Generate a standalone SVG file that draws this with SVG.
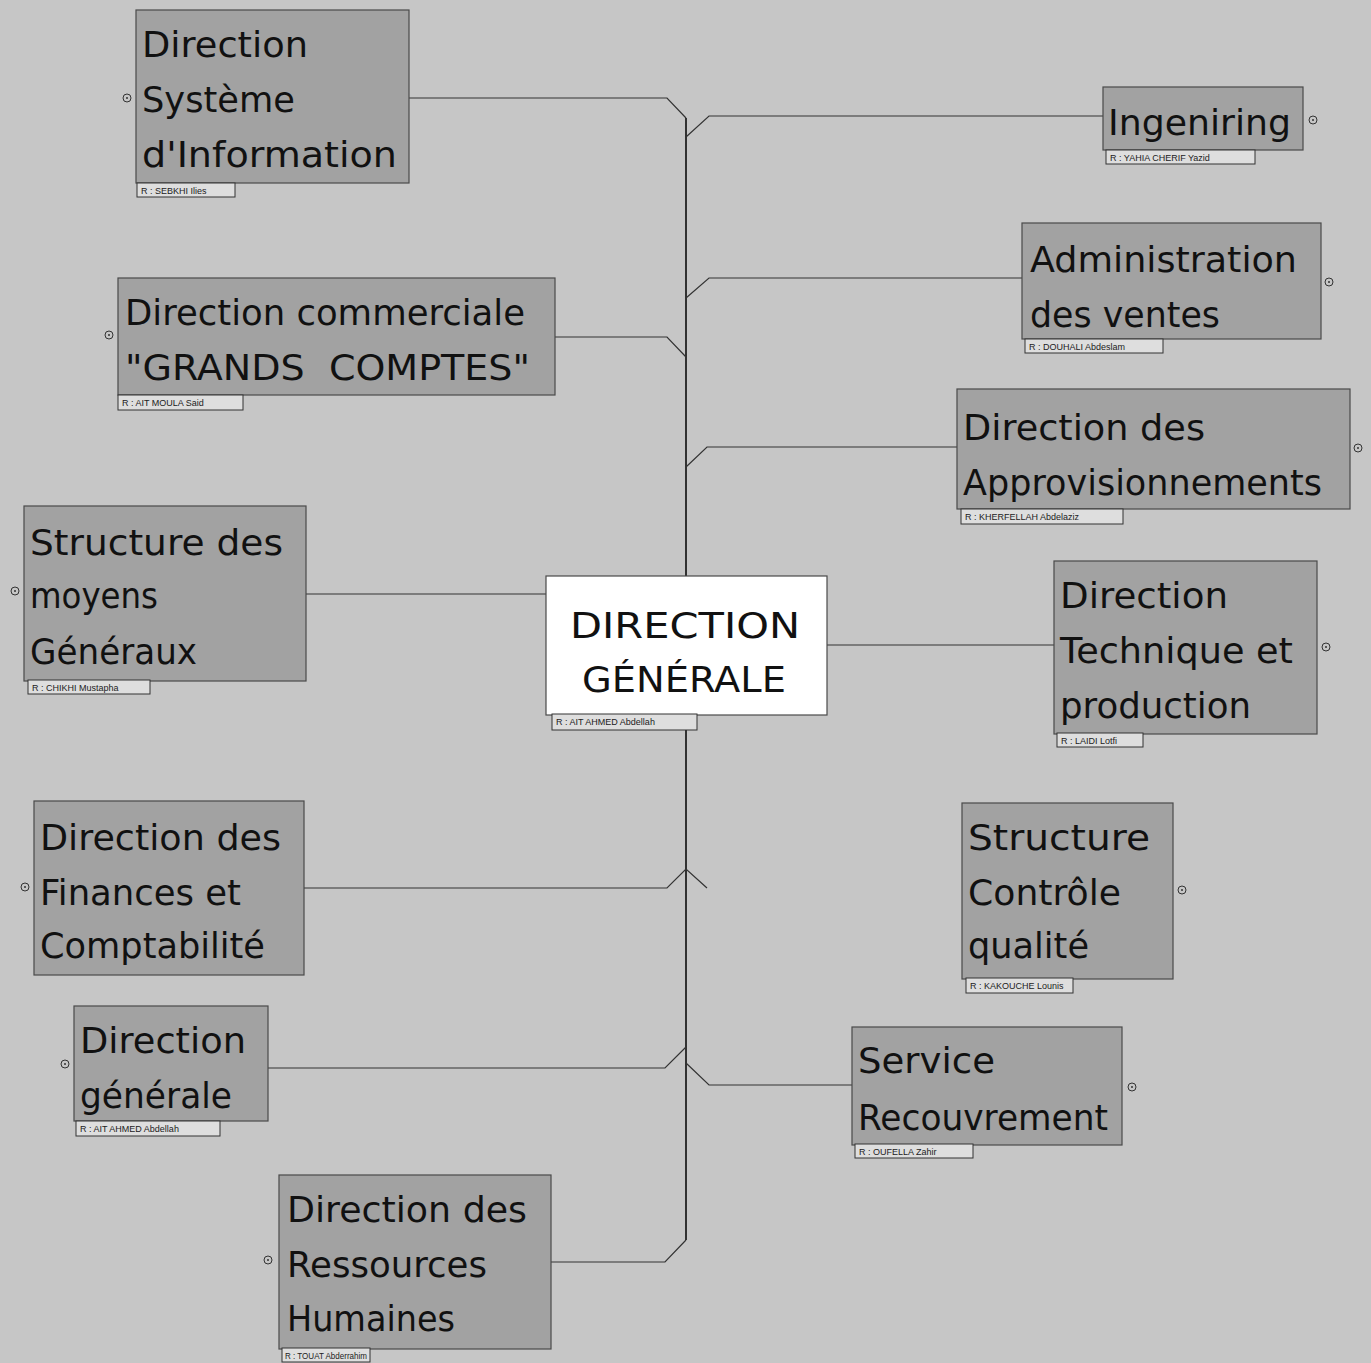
<svg xmlns="http://www.w3.org/2000/svg" width="1371" height="1363" viewBox="0 0 1371 1363">
<style>
.bg{fill:#c6c6c6}
.box{fill:#a2a2a2;stroke:#4a4a4a;stroke-width:1.2}
.main{fill:#ffffff;stroke:#4a4a4a;stroke-width:1.2}
.t{font-family:"DejaVu Sans","Liberation Sans",sans-serif;font-size:35px;fill:#111}
.lab{fill:#dedede;stroke:#333;stroke-width:1}
.lt{font-family:"Liberation Sans",Arial,sans-serif;font-size:9px;fill:#222}
.conn{stroke:#333;fill:none;stroke-width:1.2}
.trunk{stroke:#222;fill:none;stroke-width:1.8}
.mk{fill:none;stroke:#333;stroke-width:1}
.dot{fill:#333}
</style>
<rect class="bg" x="0" y="0" width="1371" height="1363"/>

<g id="connectors">
  <path class="trunk" d="M686,118 V1240"/>
  <path class="conn" d="M409,98 H667 L686,118"/>
  <path class="conn" d="M1103,116 H709 L686,137"/>
  <path class="conn" d="M1022,278 H709 L686,298"/>
  <path class="conn" d="M555,337 H667 L686,357"/>
  <path class="conn" d="M957,447 H707 L686,467"/>
  <path class="conn" d="M306,594 H546"/>
  <path class="conn" d="M827,645 H1054"/>
  <path class="conn" d="M304,888 H667 L686,869 L707,888"/>
  <path class="conn" d="M268,1068 H665 L686,1047"/>
  <path class="conn" d="M686,1063 L709,1085 H852"/>
  <path class="conn" d="M551,1262 H665 L686,1240"/>
</g>

<g id="n-dsi">
  <rect class="box" x="136" y="10" width="273" height="173"/>
  <text class="t" x="142" y="57" textLength="166" lengthAdjust="spacingAndGlyphs">Direction</text>
  <text class="t" x="142" y="112" textLength="153" lengthAdjust="spacingAndGlyphs">Système</text>
  <text class="t" x="142" y="167" textLength="255" lengthAdjust="spacingAndGlyphs">d'Information</text>
  <rect class="lab" x="137" y="183" width="98" height="14"/>
  <text class="lt" x="141" y="194">R : SEBKHI Ilies</text>
  <circle class="mk" cx="127" cy="98" r="4"/><circle class="dot" cx="127" cy="98" r="1"/>
</g>

<g id="n-ing">
  <rect class="box" x="1103" y="87" width="200" height="63"/>
  <text class="t" x="1108" y="135" textLength="183" lengthAdjust="spacingAndGlyphs">Ingeniring</text>
  <rect class="lab" x="1106" y="150" width="149" height="14"/>
  <text class="lt" x="1110" y="161">R : YAHIA CHERIF Yazid</text>
  <circle class="mk" cx="1313" cy="120" r="4"/><circle class="dot" cx="1313" cy="120" r="1"/>
</g>

<g id="n-adv">
  <rect class="box" x="1022" y="223" width="299" height="116"/>
  <text class="t" x="1030" y="272" textLength="267" lengthAdjust="spacingAndGlyphs">Administration</text>
  <text class="t" x="1030" y="327" textLength="190" lengthAdjust="spacingAndGlyphs">des ventes</text>
  <rect class="lab" x="1025" y="339" width="138" height="14"/>
  <text class="lt" x="1029" y="350">R : DOUHALI Abdeslam</text>
  <circle class="mk" cx="1329" cy="282" r="4"/><circle class="dot" cx="1329" cy="282" r="1"/>
</g>

<g id="n-gc">
  <rect class="box" x="118" y="278" width="437" height="117"/>
  <text class="t" x="125" y="325" textLength="400" lengthAdjust="spacingAndGlyphs">Direction commerciale</text>
  <text class="t" x="125" y="380" textLength="405" lengthAdjust="spacingAndGlyphs" xml:space="preserve">"GRANDS  COMPTES"</text>
  <rect class="lab" x="118" y="395" width="125" height="15"/>
  <text class="lt" x="122" y="406">R : AIT MOULA Said</text>
  <circle class="mk" cx="109" cy="335" r="4"/><circle class="dot" cx="109" cy="335" r="1"/>
</g>

<g id="n-appro">
  <rect class="box" x="957" y="389" width="393" height="120"/>
  <text class="t" x="963" y="440" textLength="242" lengthAdjust="spacingAndGlyphs">Direction des</text>
  <text class="t" x="963" y="495" textLength="359" lengthAdjust="spacingAndGlyphs">Approvisionnements</text>
  <rect class="lab" x="961" y="509" width="162" height="15"/>
  <text class="lt" x="965" y="520">R : KHERFELLAH Abdelaziz</text>
  <circle class="mk" cx="1358" cy="448" r="4"/><circle class="dot" cx="1358" cy="448" r="1"/>
</g>

<g id="n-smg">
  <rect class="box" x="24" y="506" width="282" height="175"/>
  <text class="t" x="30" y="555" textLength="253" lengthAdjust="spacingAndGlyphs">Structure des</text>
  <text class="t" x="30" y="608" textLength="128" lengthAdjust="spacingAndGlyphs">moyens</text>
  <text class="t" x="30" y="664" textLength="167" lengthAdjust="spacingAndGlyphs">Généraux</text>
  <rect class="lab" x="28" y="680" width="122" height="14"/>
  <text class="lt" x="32" y="691">R : CHIKHI Mustapha</text>
  <circle class="mk" cx="15" cy="591" r="4"/><circle class="dot" cx="15" cy="591" r="1"/>
</g>

<g id="n-dg-main">
  <rect class="main" x="546" y="576" width="281" height="139"/>
  <text class="t" x="570" y="638" textLength="230" lengthAdjust="spacingAndGlyphs">DIRECTION</text>
  <text class="t" x="582" y="692" textLength="204" lengthAdjust="spacingAndGlyphs">GÉNÉRALE</text>
  <rect class="lab" x="552" y="714" width="145" height="16"/>
  <text class="lt" x="556" y="725">R : AIT AHMED Abdellah</text>
</g>

<g id="n-tech">
  <rect class="box" x="1054" y="561" width="263" height="173"/>
  <text class="t" x="1060" y="608" textLength="168" lengthAdjust="spacingAndGlyphs">Direction</text>
  <text class="t" x="1060" y="663" textLength="233" lengthAdjust="spacingAndGlyphs">Technique et</text>
  <text class="t" x="1060" y="718" textLength="191" lengthAdjust="spacingAndGlyphs">production</text>
  <rect class="lab" x="1057" y="733" width="86" height="14"/>
  <text class="lt" x="1061" y="744">R : LAIDI Lotfi</text>
  <circle class="mk" cx="1326" cy="647" r="4"/><circle class="dot" cx="1326" cy="647" r="1"/>
</g>

<g id="n-fin">
  <rect class="box" x="34" y="801" width="270" height="174"/>
  <text class="t" x="40" y="850" textLength="241" lengthAdjust="spacingAndGlyphs">Direction des</text>
  <text class="t" x="40" y="905" textLength="201" lengthAdjust="spacingAndGlyphs">Finances et</text>
  <text class="t" x="40" y="958" textLength="225" lengthAdjust="spacingAndGlyphs">Comptabilité</text>
  <circle class="mk" cx="25" cy="887" r="4"/><circle class="dot" cx="25" cy="887" r="1"/>
</g>

<g id="n-qual">
  <rect class="box" x="962" y="803" width="211" height="176"/>
  <text class="t" x="968" y="850" textLength="182" lengthAdjust="spacingAndGlyphs">Structure</text>
  <text class="t" x="968" y="905" textLength="153" lengthAdjust="spacingAndGlyphs">Contrôle</text>
  <text class="t" x="968" y="958" textLength="121" lengthAdjust="spacingAndGlyphs">qualité</text>
  <rect class="lab" x="966" y="978" width="107" height="15"/>
  <text class="lt" x="970" y="989">R : KAKOUCHE Lounis</text>
  <circle class="mk" cx="1182" cy="890" r="4"/><circle class="dot" cx="1182" cy="890" r="1"/>
</g>

<g id="n-dg">
  <rect class="box" x="74" y="1006" width="194" height="115"/>
  <text class="t" x="80" y="1053" textLength="166" lengthAdjust="spacingAndGlyphs">Direction</text>
  <text class="t" x="80" y="1108" textLength="152" lengthAdjust="spacingAndGlyphs">générale</text>
  <rect class="lab" x="76" y="1121" width="144" height="15"/>
  <text class="lt" x="80" y="1132">R : AIT AHMED Abdellah</text>
  <circle class="mk" cx="65" cy="1064" r="4"/><circle class="dot" cx="65" cy="1064" r="1"/>
</g>

<g id="n-recouv">
  <rect class="box" x="852" y="1027" width="270" height="118"/>
  <text class="t" x="858" y="1073" textLength="137" lengthAdjust="spacingAndGlyphs">Service</text>
  <text class="t" x="858" y="1130" textLength="250" lengthAdjust="spacingAndGlyphs">Recouvrement</text>
  <rect class="lab" x="855" y="1144" width="118" height="14"/>
  <text class="lt" x="859" y="1155">R : OUFELLA Zahir</text>
  <circle class="mk" cx="1132" cy="1087" r="4"/><circle class="dot" cx="1132" cy="1087" r="1"/>
</g>

<g id="n-rh">
  <rect class="box" x="279" y="1175" width="272" height="174"/>
  <text class="t" x="287" y="1222" textLength="240" lengthAdjust="spacingAndGlyphs">Direction des</text>
  <text class="t" x="287" y="1277" textLength="200" lengthAdjust="spacingAndGlyphs">Ressources</text>
  <text class="t" x="287" y="1331" textLength="168" lengthAdjust="spacingAndGlyphs">Humaines</text>
  <rect class="lab" x="282" y="1348" width="88" height="14"/>
  <text class="lt" x="285" y="1359" textLength="82" lengthAdjust="spacingAndGlyphs">R : TOUAT Abderrahim</text>
  <circle class="mk" cx="268" cy="1260" r="4"/><circle class="dot" cx="268" cy="1260" r="1"/>
</g>
</svg>
